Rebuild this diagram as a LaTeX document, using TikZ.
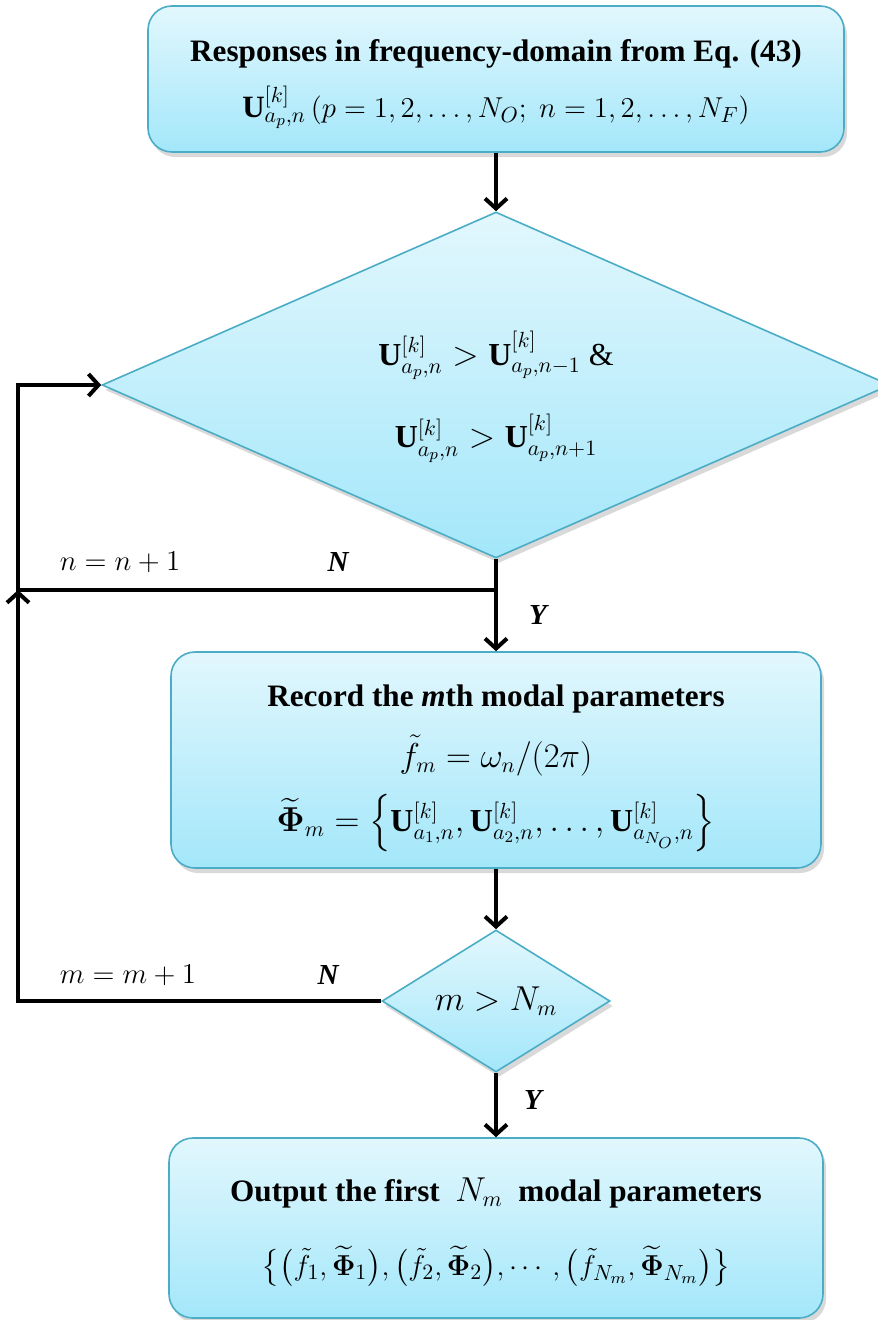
\documentclass[tikz,border=0pt]{standalone}
\usepackage{amsmath,amssymb}
\usepackage{fontspec}
\setmainfont{Liberation Serif}
\usetikzlibrary{arrows.meta,shapes.geometric,shadows}
\definecolor{boxtop}{RGB}{226,247,253}
\definecolor{boxbot}{RGB}{163,231,250}
\definecolor{boxedge}{RGB}{75,172,198}
\newcommand{\mfont}{\fontsize{16}{19}\selectfont}

\begin{document}
\begin{tikzpicture}[x=0.5pt, y=-0.5pt, every node/.style={font=\fontsize{15.6}{18.7}\selectfont},
  procbox/.style={rectangle, rounded corners=12pt, draw=boxedge, line width=0.8pt,
    top color=boxtop, bottom color=boxbot, align=center, inner sep=0pt,
    drop shadow={shadow xshift=1.5pt, shadow yshift=-2.5pt, opacity=0.3}},
  decbox/.style={diamond, draw=boxedge, line width=0.8pt, top color=boxtop, bottom color=boxbot,
    align=center, inner sep=0pt,
    drop shadow={shadow xshift=1.5pt, shadow yshift=-2.5pt, opacity=0.3}},
  flow/.style={line width=2pt, -{Straight Barb[length=5pt, width=11pt]}},
  link/.style={line width=2pt},
  yn/.style={font=\fontsize{14.5}{17}\selectfont\bfseries\itshape},
  lbl/.style={font=\fontsize{15}{18}\selectfont}]
\useasboundingbox (0,0) rectangle (877,1320);
% Boxes and decisions
\node[procbox, minimum width=348pt, minimum height=73pt] (resp) at (496,79)
  {{\bfseries\rule{0pt}{16pt}Responses in frequency-domain from Eq. (43)}\\[8pt]
   {\fontsize{15.5}{18}\selectfont $\mathbf{U}^{[k]}_{a_p,n}\,(p=1,2,\ldots,N_O;\ n=1,2,\ldots,N_F)$}};
\node[decbox, aspect=2.28, minimum width=394pt, minimum height=173pt] (peak) at (496,385)
  {{\mfont\rule{0pt}{29pt}$\mathbf{U}^{[k]}_{a_p,n}>\mathbf{U}^{[k]}_{a_p,n-1}$ \&}\\[16pt]
   {\mfont $\mathbf{U}^{[k]}_{a_p,n}>\mathbf{U}^{[k]}_{a_p,n+1}$}};
\node[procbox, minimum width=325pt, minimum height=108pt] (rec) at (496,760)
  {{\bfseries\rule{0pt}{19pt}Record the \textit{m}th modal parameters}\\[10pt]
   {\mfont $\tilde{f}_m=\omega_n/(2\pi)$}\\[8pt]
   {\mfont $\widetilde{\boldsymbol{\Phi}}_m=\left\{\mathbf{U}^{[k]}_{a_1,n},\mathbf{U}^{[k]}_{a_2,n},\ldots,\mathbf{U}^{[k]}_{a_{N_O},n}\right\}$}};
\node[decbox, aspect=1.6, minimum width=114pt, minimum height=71pt] (cnt) at (496,1001)
  {\mfont $m>N_m$};
\node[procbox, minimum width=327pt, minimum height=90pt] (out) at (496,1228)
  {{\bfseries\rule{0pt}{16pt}Output the first\ \ {\mfont $N_m$}\ \ modal parameters}\\[18pt]
   {\fontsize{15.5}{18}\selectfont $\bigl\{\bigl(\tilde{f}_1,\widetilde{\boldsymbol{\Phi}}_1\bigr),\bigl(\tilde{f}_2,\widetilde{\boldsymbol{\Phi}}_2\bigr),\cdots,\bigl(\tilde{f}_{N_m},\widetilde{\boldsymbol{\Phi}}_{N_m}\bigr)\bigr\}$}};
% Labels
\node[lbl] (ninc) at (120,562) {$n=n+1$};
\node[yn] (no1) at (338,562) {N};
\node[yn] (yes1) at (538,615) {Y};
\node[lbl] (minc) at (128,975) {$m=m+1$};
\node[yn] (no2) at (328,975) {N};
\node[yn] (yes2) at (533,1100) {Y};
% Connectors
\coordinate (j1) at (496,590);
\coordinate (c1) at (18,590);
\draw[flow] (resp.south) -- (peak.north);
\draw[link] (peak.south) -- (j1);
\draw[flow] (j1) -- (rec.north);
\draw[flow] (j1) -- (c1) |- (peak.west);
\draw[flow] (rec.south) -- (cnt.north);
\draw[flow] (cnt.west) -| (c1);
\draw[flow] (cnt.south) -- (out.north);
\end{tikzpicture}
\end{document}
